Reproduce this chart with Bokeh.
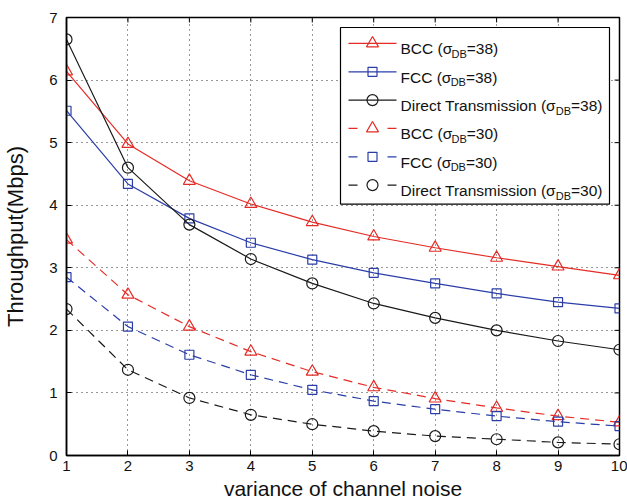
from bokeh.plotting import figure
from bokeh.models import Range1d, FixedTicker
from bokeh.core.properties import value
from bokeh.embed import file_html
from bokeh.resources import INLINE

# ---- data -------------------------------------------------------------
noise_variance = [1, 2, 3, 4, 5, 6, 7, 8, 9, 10]
bcc_38 = [6.14, 4.98, 4.39, 4.02, 3.73, 3.50, 3.32, 3.16, 3.02, 2.88]
fcc_38 = [5.51, 4.34, 3.79, 3.40, 3.13, 2.92, 2.75, 2.59, 2.45, 2.35]
direct_38 = [6.65, 4.60, 3.69, 3.14, 2.75, 2.43, 2.20, 2.00, 1.83, 1.69]
bcc_30 = [3.45, 2.57, 2.06, 1.66, 1.34, 1.09, 0.91, 0.76, 0.63, 0.53]
fcc_30 = [2.85, 2.06, 1.61, 1.29, 1.05, 0.87, 0.74, 0.63, 0.54, 0.47]
direct_30 = [2.34, 1.37, 0.92, 0.65, 0.50, 0.39, 0.31, 0.26, 0.21, 0.18]

x_ticks = [1, 2, 3, 4, 5, 6, 7, 8, 9, 10]
y_ticks = [0, 1, 2, 3, 4, 5, 6, 7]

series_names = ["BCC (", "FCC (", "Direct Transmission (",
                "BCC (", "FCC (", "Direct Transmission ("]
series_sigma = ["38", "38", "38", "30", "30", "30"]

# ---- layout / style ---------------------------------------------------
W, H = 627, 502
BL, BR, BT, BB = 66, 8, 17, 46
X0, X1, Y0, Y1 = 1, 10, 0, 7
FONT = "Liberation Sans"
RED, BLUE, BLACK = "#e52b25", "#2b3ea8", "#1a1a1a"
TICK_LEN = 5

FRAME_W = W - BL - BR
FRAME_H = H - BT - BB


def px_x(px):
    """canvas pixel column -> data x"""
    return X0 + (px - BL) * (X1 - X0) / FRAME_W


def px_y(py):
    """canvas pixel row -> data y"""
    return Y0 + (H - BB - py) * (Y1 - Y0) / FRAME_H


# Arial / Liberation Sans advance widths (em units)
ADV = {' ': .278, '(': .333, ')': .333, '=': .584, '0': .556, '3': .556,
       '8': .556, 'B': .667, 'C': .722, 'D': .722, 'F': .611, 'T': .611,
       'i': .222, 'r': .333, 'e': .556, 'c': .5, 't': .278, 'a': .556,
       'n': .556, 's': .5, 'm': .833, 'o': .556, 'σ': .57}


def text_w(s, size):
    return sum(ADV.get(ch, .556) for ch in s) * size


p = figure(width=W, height=H, output_backend="svg", toolbar_location=None,
           x_range=Range1d(X0, X1), y_range=Range1d(Y0, Y1),
           min_border_left=BL, min_border_right=BR,
           min_border_top=BT, min_border_bottom=BB)
p.background_fill_color = "white"
p.border_fill_color = "white"
p.outline_line_color = "black"
p.outline_line_width = 1.5

for ax in (p.xaxis[0], p.yaxis[0]):
    ax.major_tick_in = TICK_LEN
    ax.major_tick_out = 0
    ax.minor_tick_line_color = None
    ax.axis_line_width = 1.5
    ax.axis_line_color = "black"
    ax.major_tick_line_color = "black"
    ax.major_label_text_font = FONT
    ax.major_label_text_font_size = "15px"
    ax.major_label_text_color = "#111111"
    ax.axis_label_text_font = FONT
    ax.axis_label_text_font_style = "normal"
    ax.axis_label_text_color = "#111111"

p.xaxis[0].ticker = FixedTicker(ticks=x_ticks)
p.yaxis[0].ticker = FixedTicker(ticks=y_ticks)
p.xaxis[0].major_label_standoff = 5
p.xaxis[0].axis_label = "variance of channel noise"
p.xaxis[0].axis_label_text_font_size = "21px"
p.xaxis[0].axis_label_standoff = 3
p.yaxis[0].major_label_standoff = 9
p.yaxis[0].axis_label = "Throughput(Mbps)"
p.yaxis[0].axis_label_text_font_size = "22px"
p.yaxis[0].axis_label_standoff = 18

for g in (p.xgrid[0], p.ygrid[0]):
    g.grid_line_color = "#333333"
    g.grid_line_dash = "1 4"
    g.grid_line_width = 1

# inward tick marks along the top and right sides of the box
dx_tick = TICK_LEN * (X1 - X0) / FRAME_W
dy_tick = TICK_LEN * (Y1 - Y0) / FRAME_H
p.segment(x0=x_ticks, x1=x_ticks, y0=[Y1] * len(x_ticks),
          y1=[Y1 - dy_tick] * len(x_ticks), line_color="black", line_width=1)
p.segment(x0=[X1] * len(y_ticks), x1=[X1 - dx_tick] * len(y_ticks),
          y0=y_ticks, y1=y_ticks, line_color="black", line_width=1)

# ---- curves -----------------------------------------------------------
DASH = "9 6"
series = [
    (bcc_38, RED, "solid", "triangle", 12),
    (fcc_38, BLUE, "solid", "square", 9),
    (direct_38, BLACK, "solid", "circle", 11),
    (bcc_30, RED, DASH, "triangle", 12),
    (fcc_30, BLUE, DASH, "square", 9),
    (direct_30, BLACK, DASH, "circle", 11),
]

for ys, color, dash, marker, size in series:
    p.line(noise_variance, ys, line_color=color, line_width=1.2, line_dash=dash)
    p.scatter(noise_variance, ys, marker=marker, size=size,
              line_color=color, fill_color=None, line_width=1.2)

# ---- legend -----------------------------------------------------------
LG_L, LG_R, LG_T, LG_B = 340, 609, 27, 204
p.quad(left=[px_x(LG_L)], right=[px_x(LG_R)], top=[px_y(LG_T)],
       bottom=[px_y(LG_B)], fill_color="white", line_color="black",
       line_width=1.2)

ROW0, ROW_STEP = 43, 28.4
SAMPLE_L, SAMPLE_R, MARK_X, TEXT_X = 348, 396, 372, 400
MAIN_SIZE, SUB_SIZE = 15.5, 11

for i, (ys, color, dash, marker, size) in enumerate(series):
    cy = ROW0 + i * ROW_STEP
    if dash == "solid":
        p.line([px_x(SAMPLE_L), px_x(SAMPLE_R)], [px_y(cy), px_y(cy)],
               line_color=color, line_width=1.2)
    else:
        p.multi_line([[px_x(SAMPLE_L), px_x(SAMPLE_L + 9)],
                      [px_x(SAMPLE_R - 9), px_x(SAMPLE_R)]],
                     [[px_y(cy), px_y(cy)], [px_y(cy), px_y(cy)]],
                     line_color=color, line_width=1.2)
    p.scatter([px_x(MARK_X)], [px_y(cy)], marker=marker, size=size,
              line_color=color, fill_color=None, line_width=1.2)

    base = cy + 5.5
    head = series_names[i] + "σ"
    tail = "=" + series_sigma[i] + ")"
    w_head = text_w(head, MAIN_SIZE)
    w_sub = text_w("DB", SUB_SIZE)
    p.text([px_x(TEXT_X)], [px_y(base)], text=[head],
           text_font=value(FONT), text_font_size=f"{MAIN_SIZE}px",
           text_color="#111111", text_baseline="alphabetic", text_align="left")
    p.text([px_x(TEXT_X + w_head)], [px_y(base + 5)], text=["DB"],
           text_font=value(FONT), text_font_size=f"{SUB_SIZE}px",
           text_color="#111111", text_baseline="alphabetic", text_align="left")
    p.text([px_x(TEXT_X + w_head + w_sub)], [px_y(base)], text=[tail],
           text_font=value(FONT), text_font_size=f"{MAIN_SIZE}px",
           text_color="#111111", text_baseline="alphabetic", text_align="left")

open("out.html", "w").write(file_html(p, INLINE))
